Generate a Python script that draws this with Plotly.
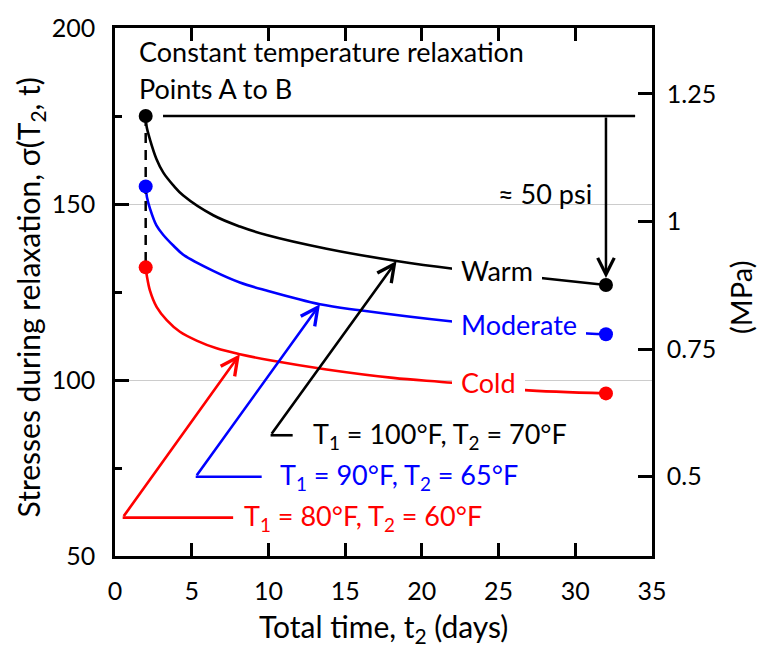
import plotly.graph_objects as go

PSI_TO_MPA = 0.00689476

# Relaxation curves: total time (days) vs. stress (psi)
warm_t = [2, 2.06, 2.28, 2.7, 3.15, 3.8, 4.45, 6.4, 8.14, 9.88, 13.79, 18.35, 22.04, 27.9, 32]
warm_s = [175, 172.0, 168.3, 162.8, 158.9, 155.3, 152.4, 146.8, 143.6, 141.2, 137.3, 133.8, 131.6, 128.9, 127.0]

mod_t = [2, 2.08, 2.28, 2.7, 3.15, 3.8, 4.45, 6.4, 8.14, 9.88, 13.36, 15.96, 22.0, 30.8, 32]
mod_s = [155, 152.0, 148.7, 143.9, 141.2, 138.2, 135.6, 131.0, 127.7, 125.4, 121.5, 119.8, 116.6, 113.2, 113.0]

cold_t = [2, 2.08, 2.28, 2.72, 3.37, 4.23, 5.32, 6.62, 8.14, 10.1, 13.79, 18.13, 22.0, 26.5, 32]
cold_s = [132, 129.5, 125.4, 120.7, 117.0, 113.7, 111.2, 109.0, 107.3, 105.6, 103.0, 100.6, 99.2, 97.2, 96.2]

# Leader lines for the temperature labels: corner, horizontal end, arrow tip on curve
leaders = [
    # (color, corner_x, end_x, y, tip_x, tip_y, label, label_x)
    ("red", 0.5, 7.7, 60.9, 8.14, 107.3, "T<sub>1</sub> = 80°F, T<sub>2</sub> = 60°F", 8.3),
    ("blue", 5.26, 9.56, 72.5, 13.36, 121.5, "T<sub>1</sub> = 90°F, T<sub>2</sub> = 65°F", 10.6),
    ("black", 10.14, 11.58, 84.3, 18.35, 133.8, "T<sub>1</sub> = 100°F, T<sub>2</sub> = 70°F", 12.8),
]

# Constant temperature level (psi) and its horizontal extent (days)
level_x = [3.13, 33.9]

FONT = "Lato"
FS = 27        # in-plot labels
FS_TICK = 25   # tick labels
FS_TITLE = 30  # axis titles

fig = go.Figure()

series = [
    (warm_t, warm_s, "black"),
    (mod_t, mod_s, "blue"),
    (cold_t, cold_s, "red"),
]

for t, s, c in series:
    fig.add_trace(go.Scatter(x=t, y=s, mode="lines",
                             line=dict(color=c, width=2.6, shape="spline", smoothing=1.0),
                             showlegend=False, hoverinfo="skip"))

# dashed drop at the start time
fig.add_trace(go.Scatter(x=[warm_t[0], cold_t[0]], y=[warm_s[0], cold_s[0]], mode="lines",
                         line=dict(color="black", width=2.5, dash="10px,7px"),
                         showlegend=False, hoverinfo="skip"))

# constant temperature line
fig.add_trace(go.Scatter(x=level_x, y=[warm_s[0], warm_s[0]], mode="lines",
                         line=dict(color="black", width=2.6),
                         showlegend=False, hoverinfo="skip"))

# end-point markers
for t, s, c in series:
    fig.add_trace(go.Scatter(x=[t[0], t[-1]], y=[s[0], s[-1]], mode="markers",
                             marker=dict(color=c, size=14),
                             showlegend=False, hoverinfo="skip"))

# leader lines (horizontal part)
for c, cx, ex, ly, tx, ty, lab, lx in leaders:
    fig.add_trace(go.Scatter(x=[ex, cx], y=[ly, ly], mode="lines",
                             line=dict(color=c, width=2.6),
                             showlegend=False, hoverinfo="skip"))

# secondary axis in MPa
fig.add_trace(go.Scatter(x=[None], y=[None], yaxis="y2", showlegend=False, hoverinfo="skip"))

ann = []
for c, cx, ex, ly, tx, ty, lab, lx in leaders:
    ann.append(dict(x=tx, y=ty, ax=cx, ay=ly, xref="x", yref="y", axref="x", ayref="y",
                    text="", showarrow=True, arrowhead=5, arrowsize=1.3, arrowwidth=2.6,
                    arrowcolor=c, standoff=0, startstandoff=0))
    ann.append(dict(x=lx, y=ly, xref="x", yref="y", text=lab, showarrow=False,
                    xanchor="left", yanchor="middle", font=dict(color=c, size=FS, family=FONT)))

# vertical arrow showing the stress drop
ann.append(dict(x=warm_t[-1], y=warm_s[-1], ax=warm_t[-1], ay=warm_s[0], xref="x", yref="y",
                axref="x", ayref="y", text="", showarrow=True, arrowhead=5, arrowsize=1.3,
                arrowwidth=2.5, arrowcolor="black", standoff=7))
ann.append(dict(x=31.2, y=153.0, xref="x", yref="y", text="≈ 50 psi", showarrow=False,
                xanchor="right", yanchor="middle", font=dict(color="black", size=FS, family=FONT)))

# curve names on white boxes that break the lines
for name, y, c in [("Warm", 131.2, "black"), ("Moderate", 115.8, "blue"), ("Cold", 99.3, "red")]:
    ann.append(dict(x=21.96, y=y, xref="x", yref="y", text=name, showarrow=False,
                    xanchor="left", yanchor="middle", bgcolor="white", borderpad=9, borderwidth=0,
                    font=dict(color=c, size=FS, family=FONT)))

ann.append(dict(x=1.43, y=193.4, xref="x", yref="y", text="Constant temperature relaxation",
                showarrow=False, xanchor="left", yanchor="middle",
                font=dict(color="black", size=FS, family=FONT)))
ann.append(dict(x=1.43, y=182.7, xref="x", yref="y", text="Points A to B",
                showarrow=False, xanchor="left", yanchor="middle",
                font=dict(color="black", size=FS, family=FONT)))

# axis titles
ann.append(dict(x=-0.158, y=0.49, xref="paper", yref="paper", textangle=-90,
                text="Stresses during relaxation, σ(T<sub>2</sub>, t)", showarrow=False,
                xanchor="center", yanchor="middle",
                font=dict(color="black", size=FS_TITLE, family=FONT)))
ann.append(dict(x=1.165, y=0.49, xref="paper", yref="paper", textangle=-90,
                text="(MPa)", showarrow=False,
                xanchor="center", yanchor="middle",
                font=dict(color="black", size=29, family=FONT)))
ann.append(dict(x=0.5, y=-0.136, xref="paper", yref="paper",
                text="Total time, t<sub>2</sub> (days)", showarrow=False,
                xanchor="center", yanchor="middle",
                font=dict(color="black", size=FS_TITLE, family=FONT)))

fig.update_layout(
    width=762, height=647,
    margin=dict(l=115, r=110, t=20, b=91),
    paper_bgcolor="white", plot_bgcolor="white",
    font=dict(family=FONT, size=FS_TICK, color="black"),
    annotations=ann,
    xaxis=dict(range=[0, 35], dtick=5, tick0=0, showline=True, linecolor="black", linewidth=2.5,
               mirror="ticks", ticks="inside", ticklen=13, tickwidth=2.5, tickcolor="black",
               showgrid=False, zeroline=False, ticklabelstandoff=11,
               tickfont=dict(size=FS_TICK, family=FONT)),
    yaxis=dict(range=[50, 200], dtick=50, tick0=0, showline=True, linecolor="black", linewidth=2.5,
               ticks="inside", ticklen=14, tickwidth=2.5, tickcolor="black",
               minor=dict(dtick=25, ticks="inside", ticklen=7, tickwidth=2.5, tickcolor="black",
                          showgrid=False),
               showgrid=True, gridcolor="#cccccc", gridwidth=1, zeroline=False,
               ticklabelstandoff=12, tickfont=dict(size=FS_TICK, family=FONT)),
    yaxis2=dict(range=[50 * PSI_TO_MPA, 200 * PSI_TO_MPA], overlaying="y", side="right",
                anchor="x", tickvals=[0.5, 0.75, 1, 1.25], ticktext=["0.5", "0.75", "1", "1.25"],
                showline=True, linecolor="black", linewidth=2.5, ticks="inside", ticklen=14,
                tickwidth=2.5, tickcolor="black", showgrid=False, zeroline=False,
                ticklabelstandoff=7, tickfont=dict(size=FS_TICK, family=FONT)),
)

fig.write_html("out.html")
